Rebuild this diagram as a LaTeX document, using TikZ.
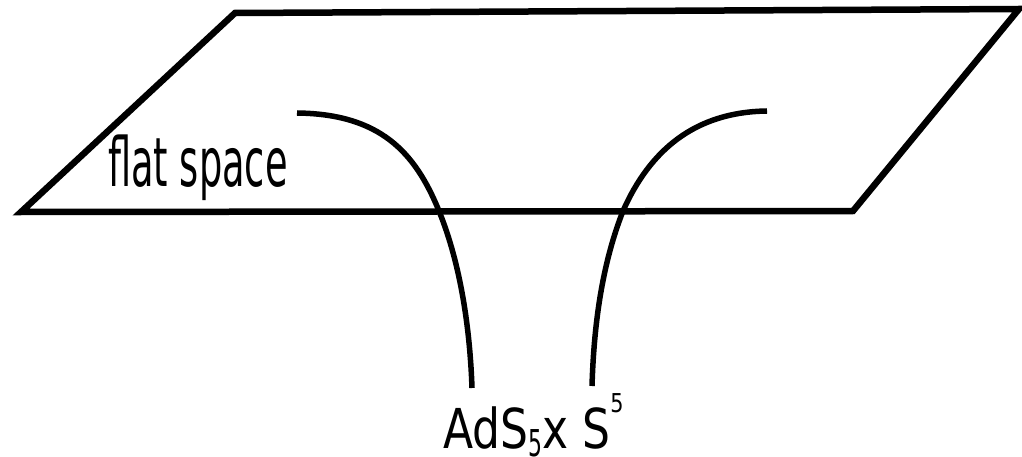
\documentclass[tikz,border=0pt]{standalone}
\usepackage{fontspec}
\setmainfont{DejaVu Sans}
\usepackage{graphicx}
\usetikzlibrary{positioning}

\begin{document}
\begin{tikzpicture}[
    x=1pt, y=-1pt,
    plane/.style={line width=6.5pt, line join=miter},
    tube/.style={line width=5.5pt},
    label/.style={anchor=base west, inner sep=0pt},
  ]
  \useasboundingbox (0,0) rectangle (1022,457);

  % the flat plane
  \coordinate (tl) at (235,13);
  \coordinate (tr) at (1019,9);
  \coordinate (br) at (853,211);
  \coordinate (bl) at (21,212);
  \draw[plane] (tl) -- (tr) -- (br) -- (bl) -- cycle;

  \node[label] (flat) at (108,187)
    {\scalebox{0.54}[1]{\fontsize{68}{70}\selectfont flat space}};

  % the throat
  \coordinate (lt) at (297,113);
  \coordinate (lm) at (439,211);
  \coordinate (lb) at (472,388);
  \coordinate (rt) at (767,111);
  \coordinate (rm) at (623,211);
  \coordinate (rb) at (592,386);
  \draw[tube] (lt) .. controls (380,114) and (415,152) .. (lm)
                   .. controls (461,265) and (470,330) .. (lb);
  \draw[tube] (rt) .. controls (695,112) and (650,150) .. (rm)
                   .. controls (603,262) and (594,320) .. (rb);

  \node[label] (ads) at (443,448)
    {\scalebox{0.8}[1]{\fontsize{55}{60}\selectfont
      AdS\raisebox{-8pt}{\fontsize{37}{40}\selectfont\scalebox{0.74}[1]{5}}x
      S\raisebox{36pt}{\fontsize{26}{30}\selectfont 5}}};
\end{tikzpicture}
\end{document}
